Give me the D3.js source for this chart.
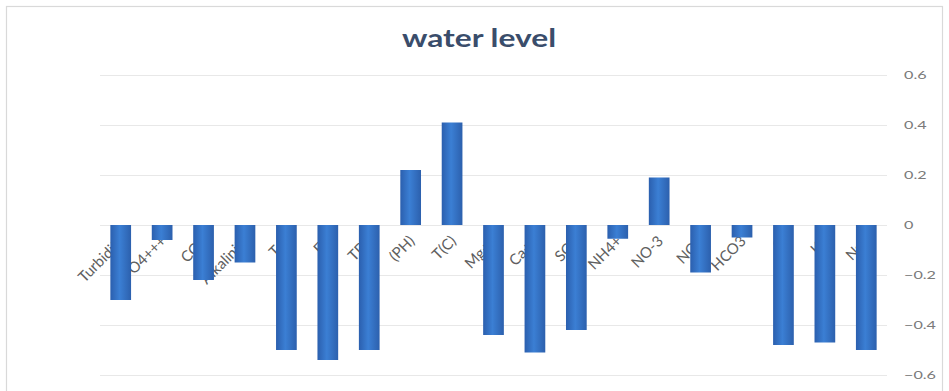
<!DOCTYPE html>
<html>
<head>
<meta charset="utf-8">
<script src="https://cdn.jsdelivr.net/npm/d3@7"></script>
<style>
  html, body { margin: 0; padding: 0; background: #fff; }
  svg { display: block; }
</style>
</head>
<body>
<svg id="chart" width="949" height="391"></svg>
<script>
// Parameters along the x axis
const categories = ["Turbidity", "PO4+++", "CO3", "Alkalinity", "T.H", "EC", "TDS", "(PH)", "T(C)",
  "Mg++", "Ca++", "SO4", "NH4+", "NO-3", "NO2", "HCO3", "Cl", "K+", "Na+"];
// Correlation with water level
const values = [-0.30, -0.06, -0.22, -0.15, -0.50, -0.54, -0.50, 0.22, 0.41,
  -0.44, -0.51, -0.42, -0.055, 0.19, -0.19, -0.05, -0.48, -0.47, -0.50];
const yTicks = [-0.6, -0.4, -0.2, 0, 0.2, 0.4, 0.6];
const chartTitle = "water level";

const FONT = "Lato, 'Liberation Sans', sans-serif";
const svg = d3.select("#chart");

// chart frame
svg.append("rect")
  .attr("x", 6.5).attr("y", 6.5).attr("width", 936).attr("height", 420)
  .attr("fill", "#fff").attr("stroke", "#d9d9d9").attr("stroke-width", 1.2);

const x = d3.scaleBand().domain(categories).range([100, 887])
  .paddingInner(0.5).paddingOuter(0.25);
const y = d3.scaleLinear().domain([-0.6, 0.6]).range([375, 75]);

// bar gradient
const defs = svg.append("defs");
const grad = defs.append("linearGradient").attr("id", "barGrad")
  .attr("x1", "0%").attr("x2", "100%").attr("y1", "0%").attr("y2", "0%");
grad.append("stop").attr("offset", "0%").attr("stop-color", "#2b5fae");
grad.append("stop").attr("offset", "45%").attr("stop-color", "#3b7fd4");
grad.append("stop").attr("offset", "100%").attr("stop-color", "#2c60ad");

// gridlines
svg.append("g").selectAll("line").data(yTicks).join("line")
  .attr("x1", 100).attr("x2", 887)
  .attr("y1", d => Math.round(y(d)) + 0.5).attr("y2", d => Math.round(y(d)) + 0.5)
  .attr("stroke", "#e8e8e8").attr("stroke-width", 1);

// right-side value axis
const yAxis = d3.axisRight(y).tickValues(yTicks).tickSize(0).tickPadding(0)
  .tickFormat(d => d === 0 ? "0" : d3.format(".1f")(d));
const ya = svg.append("g").attr("transform", "translate(904,0)").call(yAxis);
ya.select(".domain").remove();
ya.selectAll(".tick text")
  .attr("x", 0)
  .attr("transform", "scale(1.35,1)")
  .attr("fill", "#7a7a7a")
  .style("font-family", FONT)
  .style("font-size", "12px");

// category labels, slanted under the zero line and behind the bars
const labels = svg.append("g").selectAll("g").data(categories).join("g")
  .attr("transform", d => `translate(${x(d) + x.bandwidth() / 2 + 5},${y(0) + 17})`);
labels.append("g")
  .attr("transform", "rotate(-45)")
  .append("text")
  .attr("text-anchor", "end")
  .attr("fill", "#606060")
  .style("font-family", FONT)
  .style("font-size", "15px")
  .text(d => d);

// bars
svg.append("g").selectAll("rect").data(values).join("rect")
  .attr("x", (d, i) => x(categories[i]))
  .attr("width", x.bandwidth())
  .attr("y", d => y(Math.max(0, d)))
  .attr("height", d => Math.abs(y(d) - y(0)))
  .attr("fill", "url(#barGrad)");

// title
svg.append("g")
  .attr("transform", "translate(479,47) scale(1.27,1)")
  .append("text")
  .attr("text-anchor", "middle")
  .attr("fill", "#3a4d6b")
  .style("font-family", FONT)
  .style("font-weight", "bold")
  .style("font-size", "25px")
  .text(chartTitle);
</script>
</body>
</html>
